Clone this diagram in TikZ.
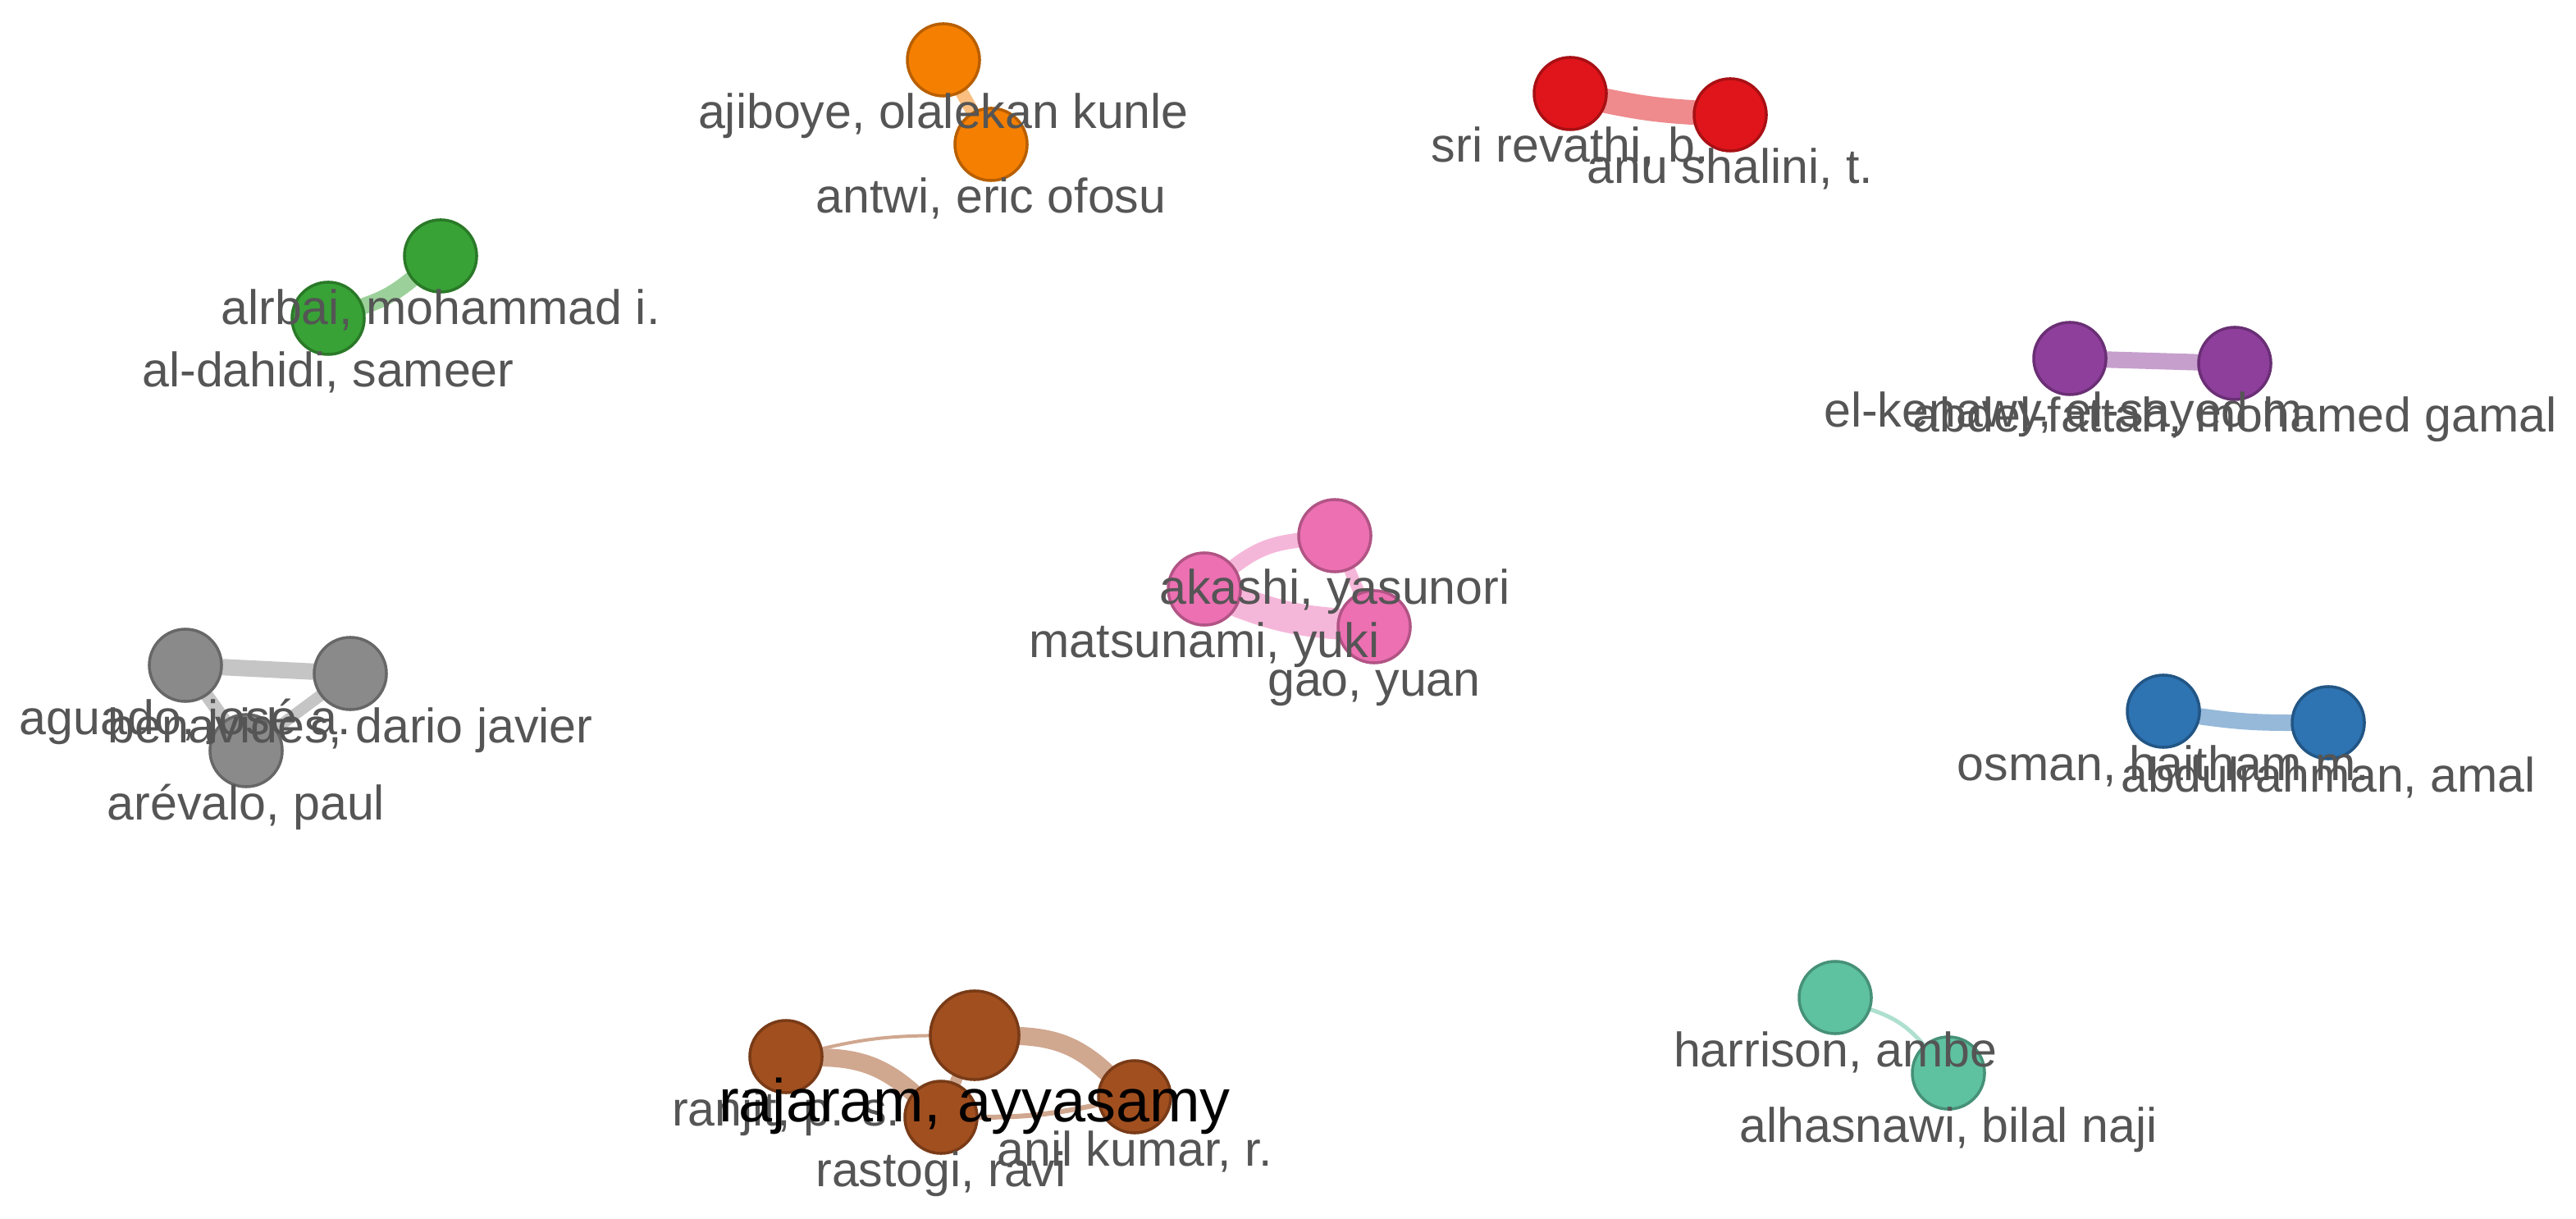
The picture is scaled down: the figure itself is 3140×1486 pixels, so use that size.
\documentclass[tikz,border=0pt]{standalone}
\usepackage{fontspec}
\setmainfont{Liberation Sans}
\usetikzlibrary{calc}
\definecolor{cOrange}{HTML}{F57F00}
\definecolor{cRed}{HTML}{E0151B}
\definecolor{cGreen}{HTML}{38A236}
\definecolor{cPurple}{HTML}{8E3F9C}
\definecolor{cPink}{HTML}{EC70B2}
\definecolor{cGray}{HTML}{8A8A8A}
\definecolor{cBlue}{HTML}{2E73B2}
\definecolor{cTeal}{HTML}{5EC1A0}
\definecolor{cBrown}{HTML}{A14F1F}
\definecolor{labgray}{HTML}{555555}
\pgfdeclarelayer{bg}
\pgfsetlayers{bg,main}
\begin{document}
\begin{tikzpicture}[x=0.01cm,y=-0.01cm,
  au/.style={circle, inner sep=0pt, minimum size=0.88cm, fill=#1, draw=#1!75!black, line width=0.035cm},
  lab/.style={anchor=base, text=labgray, font=\fontsize{16.8}{20}\selectfont, inner sep=0pt},
  biglab/.style={anchor=base, text=black, font=\fontsize{21}{25}\selectfont, inner sep=0pt},
  link/.style={draw=#1!50!white, line cap=round}]
\useasboundingbox (0,0) rectangle (3140,1486);

% nodes
\node[au=cOrange] (aji) at (1150,73) {};
\node[au=cOrange] (antwi) at (1208,176) {};
\node[au=cRed] (sri) at (1914,114) {};
\node[au=cRed] (anu) at (2109,140) {};
\node[au=cGreen] (alrbai) at (537,312) {};
\node[au=cGreen] (aldahidi) at (400,388) {};
\node[au=cPurple] (elk) at (2523,437) {};
\node[au=cPurple] (abdel) at (2724,443) {};
\node[au=cPink] (akashi) at (1627,653) {};
\node[au=cPink] (matsunami) at (1468,718) {};
\node[au=cPink] (gao) at (1675,764) {};
\node[au=cGray] (aguado) at (226,811) {};
\node[au=cGray] (benavides) at (427,821) {};
\node[au=cGray] (arevalo) at (300,915) {};
\node[au=cBlue] (osman) at (2637,867) {};
\node[au=cBlue] (abdul) at (2838,881) {};
\node[au=cTeal] (harrison) at (2237,1216) {};
\node[au=cTeal] (alhas) at (2375,1308) {};
\node[au=cBrown] (ranjit) at (958,1288) {};
\node[au=cBrown, minimum size=1.08cm] (rajaram) at (1188,1262) {};
\node[au=cBrown] (rastogi) at (1147,1362) {};
\node[au=cBrown] (anil) at (1383,1337) {};

% links
\begin{pgfonlayer}{bg}
\fill[white] (0,0) rectangle (3140,1486);
\draw[link=cOrange, line width=0.16cm] (aji) -- (antwi);
\draw[link=cRed, line width=0.30cm] (sri) to[bend right=4] (anu);
\draw[link=cGreen, line width=0.20cm] (aldahidi) to[bend right=10] (alrbai);
\draw[link=cPurple, line width=0.20cm] (elk) -- (abdel);
\draw[link=cPink, line width=0.18cm] (matsunami) to[bend left=15] (akashi);
\draw[link=cPink, line width=0.14cm] (akashi) -- (gao);
\draw[link=cPink, line width=0.38cm] (matsunami) to[bend right=8] (gao);
\draw[link=cGray, line width=0.20cm] (aguado) -- (benavides);
\draw[link=cGray, line width=0.16cm] (aguado) -- (arevalo);
\draw[link=cGray, line width=0.14cm] (benavides) -- (arevalo);
\draw[link=cBlue, line width=0.20cm] (osman) to[bend right=4] (abdul);
\draw[link=cTeal, line width=0.05cm] (harrison) to[bend left=15] (alhas);
\draw[link=cBrown, line width=0.04cm] (ranjit) to[bend left=6] (rajaram);
\draw[link=cBrown, line width=0.22cm] (ranjit) to[bend left=20] (rastogi);
\draw[link=cBrown, line width=0.22cm] (rajaram) to[bend left=20] (anil);
\draw[link=cBrown, line width=0.14cm] (rajaram) -- (rastogi);
\draw[link=cBrown, line width=0.06cm] (rastogi) to[bend right=6] (anil);
\end{pgfonlayer}

% labels
\node[lab] (l-aji) at ($(aji)+(0,84)$) {ajiboye, olalekan kunle};
\node[lab] (l-antwi) at ($(antwi)+(0,84)$) {antwi, eric ofosu};
\node[lab] (l-sri) at ($(sri)+(0,84)$) {sri revathi, b.};
\node[lab] (l-anu) at ($(anu)+(0,84)$) {anu shalini, t.};
\node[lab] (l-alrbai) at ($(alrbai)+(0,84)$) {alrbai, mohammad i.};
\node[lab] (l-aldahidi) at ($(aldahidi)+(0,84)$) {al-dahidi, sameer};
\node[lab] (l-elk) at ($(elk)+(0,84)$) {el-kenawy, el-sayed m.};
\node[lab] (l-abdel) at ($(abdel)+(0,84)$) {abdel-fattah, mohamed gamal};
\node[lab] (l-akashi) at ($(akashi)+(0,84)$) {akashi, yasunori};
\node[lab] (l-matsunami) at ($(matsunami)+(0,84)$) {matsunami, yuki};
\node[lab] (l-gao) at ($(gao)+(0,84)$) {gao, yuan};
\node[lab] (l-aguado) at ($(aguado)+(0,84)$) {aguado, josé a.};
\node[lab] (l-benavides) at ($(benavides)+(0,84)$) {benavides, dario javier};
\node[lab] (l-arevalo) at ($(arevalo)+(0,84)$) {arévalo, paul};
\node[lab] (l-osman) at ($(osman)+(0,84)$) {osman, haitham m.};
\node[lab] (l-abdul) at ($(abdul)+(0,84)$) {abdulrahman, amal};
\node[lab] (l-harrison) at ($(harrison)+(0,84)$) {harrison, ambe};
\node[lab] (l-alhas) at ($(alhas)+(0,84)$) {alhasnawi, bilal naji};
\node[lab] (l-ranjit) at ($(ranjit)+(0,84)$) {ranjit, p. s.};
\node[lab] (l-rastogi) at ($(rastogi)+(0,84)$) {rastogi, ravi};
\node[lab] (l-anil) at ($(anil)+(0,84)$) {anil kumar, r.};
\node[biglab] (l-rajaram) at ($(rajaram)+(0,105)$) {rajaram, ayyasamy};
\end{tikzpicture}
\end{document}
